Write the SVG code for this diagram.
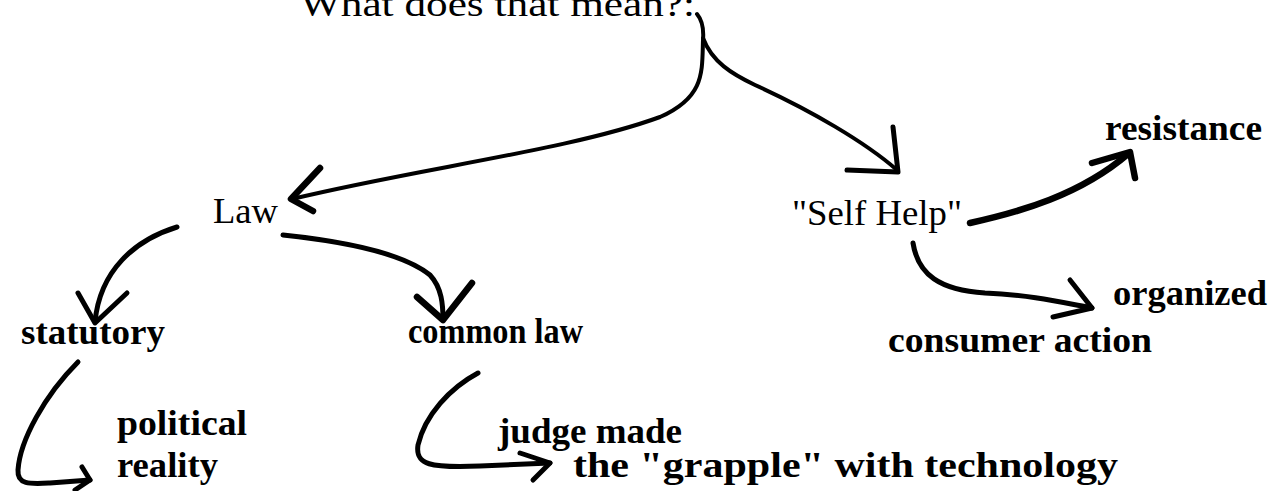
<svg xmlns="http://www.w3.org/2000/svg" width="1279" height="491" viewBox="0 0 1279 491">
<style>
.t{font-family:"Liberation Serif","Times New Roman",serif;fill:#000;font-size:36px}
.b{font-weight:bold}
.c{fill:none;stroke:#000;stroke-width:5;stroke-linecap:round;stroke-linejoin:round}
.th{stroke-width:4}
.k{stroke-width:6.5}
</style>
<rect width="1279" height="491" fill="#fff"/>
<g id="connectors">
<path class="c th" d="M697,14 C702,20 704,28 703,40 C702,72 705,97 660,117 C570,150 420,168 292,199"/>
<path class="c th" d="M703,38 C712,62 732,74 755,85 C810,110 865,142 897,170"/>
<path class="c k" d="M320,168 L291,199 L313,211"/>
<path class="c" d="M893,127 L898,172 L847,170"/>
<path class="c" d="M177,227 C135,240 100,270 95,322"/>
<path class="c" d="M78,293 L95,323 L127,293"/>
<path class="c" d="M283,235 C350,242 405,255 430,275 C442,288 443,305 443,320"/>
<path class="c k" d="M417,297 L443,320 L472,283"/>
<path class="c k" d="M970,223 C1020,212 1080,195 1128,154"/>
<path class="c k" d="M1092,163 L1130,152 L1135,178"/>
<path class="c" d="M913,243 C918,275 940,290 985,293 C1030,295 1060,302 1092,308"/>
<path class="c" d="M1070,280 L1092,308 L1053,317"/>
<path class="c" d="M78,362 C45,395 20,440 18,470 C17,485 30,484 50,483 L90,480"/>
<path class="c" d="M82,467 L90,480 L75,490"/>
<path class="c" d="M478,373 C450,388 425,415 418,445 C415,465 430,468 480,466 L550,463"/>
<path class="c" d="M520,453 L550,463 L533,480"/>
</g>
<g id="n-top"><text class="t" x="300" y="16" font-size="40" textLength="395" lengthAdjust="spacingAndGlyphs">What does that mean?:</text></g>
<g id="n-law"><text class="t" x="213" y="223" textLength="65" lengthAdjust="spacingAndGlyphs">Law</text></g>
<g id="n-selfhelp"><text class="t" x="792" y="225" textLength="170" lengthAdjust="spacingAndGlyphs">"Self Help"</text></g>
<g id="n-resistance"><text class="t b" x="1105" y="140" textLength="157" lengthAdjust="spacingAndGlyphs">resistance</text></g>
<g id="n-organized"><text class="t b" x="1113" y="305" textLength="154" lengthAdjust="spacingAndGlyphs">organized</text><text class="t b" x="888" y="352" textLength="264" lengthAdjust="spacingAndGlyphs">consumer action</text></g>
<g id="n-statutory"><text class="t b" x="21" y="344" textLength="144" lengthAdjust="spacingAndGlyphs">statutory</text></g>
<g id="n-commonlaw"><text class="t b" x="408" y="343" textLength="175" lengthAdjust="spacingAndGlyphs">common law</text></g>
<g id="n-political"><text class="t b" x="117" y="435" textLength="130" lengthAdjust="spacingAndGlyphs">political</text><text class="t b" x="117" y="477" textLength="101" lengthAdjust="spacingAndGlyphs">reality</text></g>
<g id="n-judge"><text class="t b" x="498" y="443" textLength="184" lengthAdjust="spacingAndGlyphs">judge made</text><text class="t b" x="573" y="477" textLength="545" lengthAdjust="spacingAndGlyphs">the "grapple" with technology</text></g>
</svg>
